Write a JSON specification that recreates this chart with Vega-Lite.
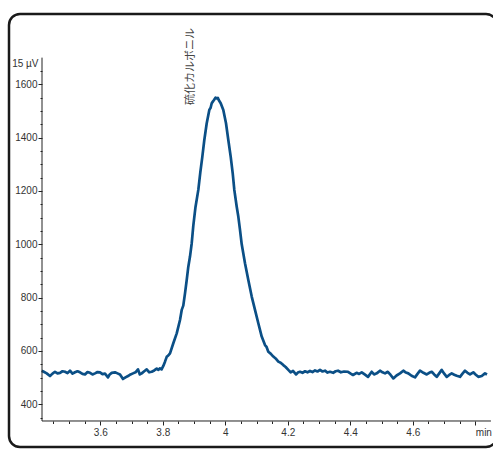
{
  "$schema": "https://vega.github.io/schema/vega-lite/v6.json",
  "autosize": {"type": "none"},
  "width": 488,
  "height": 433,
  "padding": {"left": 9, "top": 14, "right": -4, "bottom": 3},
  "background": "white",
  "config": {
    "view": {"stroke": "#1a1a1a", "strokeWidth": 2.5, "cornerRadius": 11},
    "axis": {"grid": false, "domain": false, "labelFont": "Liberation Sans", "labelFontSize": 10, "labelColor": "#333", "tickColor": "#222", "tickWidth": 1, "titleFont": "Liberation Sans"}
  },
  "datasets": {
    "trace": [
      {"t": 3.4125, "v": 526}, {"t": 3.4205, "v": 521}, {"t": 3.4285, "v": 516}, {"t": 3.4390, "v": 506},
      {"t": 3.4470, "v": 515}, {"t": 3.4550, "v": 522}, {"t": 3.4630, "v": 516}, {"t": 3.4710, "v": 518},
      {"t": 3.4790, "v": 524}, {"t": 3.4870, "v": 522}, {"t": 3.4950, "v": 517}, {"t": 3.5030, "v": 526},
      {"t": 3.5110, "v": 515}, {"t": 3.5190, "v": 520}, {"t": 3.5270, "v": 524}, {"t": 3.5350, "v": 520},
      {"t": 3.5430, "v": 514}, {"t": 3.5510, "v": 512}, {"t": 3.5590, "v": 521}, {"t": 3.5670, "v": 518},
      {"t": 3.5750, "v": 512}, {"t": 3.5830, "v": 516}, {"t": 3.5910, "v": 521}, {"t": 3.5990, "v": 520},
      {"t": 3.6070, "v": 513}, {"t": 3.6150, "v": 515}, {"t": 3.6246, "v": 501}, {"t": 3.6300, "v": 512},
      {"t": 3.6365, "v": 518}, {"t": 3.6470, "v": 520}, {"t": 3.6550, "v": 516}, {"t": 3.6630, "v": 512},
      {"t": 3.6726, "v": 495}, {"t": 3.6806, "v": 501}, {"t": 3.6886, "v": 506}, {"t": 3.6966, "v": 512},
      {"t": 3.7046, "v": 516}, {"t": 3.7126, "v": 520}, {"t": 3.7206, "v": 531}, {"t": 3.7265, "v": 512},
      {"t": 3.7325, "v": 516}, {"t": 3.7405, "v": 524}, {"t": 3.7485, "v": 531}, {"t": 3.7565, "v": 520},
      {"t": 3.7645, "v": 522}, {"t": 3.7725, "v": 527}, {"t": 3.7805, "v": 534}, {"t": 3.7860, "v": 529},
      {"t": 3.7910, "v": 535}, {"t": 3.7960, "v": 531}, {"t": 3.8016, "v": 544}, {"t": 3.8070, "v": 560},
      {"t": 3.8125, "v": 578}, {"t": 3.8175, "v": 583}, {"t": 3.8230, "v": 591}, {"t": 3.8336, "v": 629},
      {"t": 3.8445, "v": 666}, {"t": 3.8550, "v": 716}, {"t": 3.8605, "v": 754}, {"t": 3.8655, "v": 770},
      {"t": 3.8710, "v": 816}, {"t": 3.8765, "v": 866}, {"t": 3.8816, "v": 916}, {"t": 3.8870, "v": 954},
      {"t": 3.8925, "v": 1004}, {"t": 3.8976, "v": 1070}, {"t": 3.9046, "v": 1140}, {"t": 3.9136, "v": 1204},
      {"t": 3.9200, "v": 1270}, {"t": 3.9264, "v": 1328}, {"t": 3.9328, "v": 1391}, {"t": 3.9405, "v": 1454},
      {"t": 3.9488, "v": 1504}, {"t": 3.9530, "v": 1512}, {"t": 3.9565, "v": 1529}, {"t": 3.9600, "v": 1535},
      {"t": 3.9638, "v": 1541}, {"t": 3.9686, "v": 1550}, {"t": 3.9725, "v": 1547}, {"t": 3.9760, "v": 1549},
      {"t": 3.9789, "v": 1541}, {"t": 3.9853, "v": 1529}, {"t": 3.9936, "v": 1504}, {"t": 4.0022, "v": 1454},
      {"t": 4.0096, "v": 1391}, {"t": 4.0173, "v": 1328}, {"t": 4.0237, "v": 1266}, {"t": 4.0288, "v": 1204},
      {"t": 4.0365, "v": 1141}, {"t": 4.0416, "v": 1104}, {"t": 4.0470, "v": 1054}, {"t": 4.0525, "v": 1000},
      {"t": 4.0630, "v": 929}, {"t": 4.0736, "v": 866}, {"t": 4.0845, "v": 804}, {"t": 4.0950, "v": 754},
      {"t": 4.1056, "v": 704}, {"t": 4.1165, "v": 654}, {"t": 4.1270, "v": 622}, {"t": 4.1320, "v": 615},
      {"t": 4.1376, "v": 597}, {"t": 4.1450, "v": 590}, {"t": 4.1536, "v": 579}, {"t": 4.1610, "v": 572},
      {"t": 4.1696, "v": 560}, {"t": 4.1770, "v": 556}, {"t": 4.1856, "v": 547}, {"t": 4.1930, "v": 540},
      {"t": 4.2016, "v": 529}, {"t": 4.2090, "v": 520}, {"t": 4.2166, "v": 525}, {"t": 4.2262, "v": 512},
      {"t": 4.2320, "v": 519}, {"t": 4.2390, "v": 522}, {"t": 4.2470, "v": 518}, {"t": 4.2550, "v": 524},
      {"t": 4.2630, "v": 520}, {"t": 4.2710, "v": 525}, {"t": 4.2790, "v": 521}, {"t": 4.2870, "v": 527},
      {"t": 4.2950, "v": 523}, {"t": 4.3030, "v": 529}, {"t": 4.3110, "v": 523}, {"t": 4.3190, "v": 526},
      {"t": 4.3270, "v": 519}, {"t": 4.3350, "v": 522}, {"t": 4.3450, "v": 518}, {"t": 4.3530, "v": 524},
      {"t": 4.3606, "v": 526}, {"t": 4.3700, "v": 520}, {"t": 4.3800, "v": 523}, {"t": 4.3926, "v": 522},
      {"t": 4.4000, "v": 516}, {"t": 4.4086, "v": 510}, {"t": 4.4200, "v": 518}, {"t": 4.4280, "v": 514},
      {"t": 4.4365, "v": 520}, {"t": 4.4460, "v": 512}, {"t": 4.4566, "v": 503}, {"t": 4.4685, "v": 522},
      {"t": 4.4760, "v": 512}, {"t": 4.4845, "v": 516}, {"t": 4.4950, "v": 526}, {"t": 4.5030, "v": 520},
      {"t": 4.5110, "v": 516}, {"t": 4.5200, "v": 522}, {"t": 4.5290, "v": 510}, {"t": 4.5376, "v": 497},
      {"t": 4.5480, "v": 508}, {"t": 4.5590, "v": 516}, {"t": 4.5696, "v": 526}, {"t": 4.5780, "v": 519},
      {"t": 4.5856, "v": 516}, {"t": 4.5960, "v": 507}, {"t": 4.6070, "v": 501}, {"t": 4.6150, "v": 514},
      {"t": 4.6230, "v": 526}, {"t": 4.6340, "v": 518}, {"t": 4.6445, "v": 512}, {"t": 4.6525, "v": 518},
      {"t": 4.6605, "v": 522}, {"t": 4.6685, "v": 512}, {"t": 4.6765, "v": 503}, {"t": 4.6845, "v": 516},
      {"t": 4.6925, "v": 529}, {"t": 4.7005, "v": 515}, {"t": 4.7085, "v": 503}, {"t": 4.7165, "v": 510},
      {"t": 4.7245, "v": 516}, {"t": 4.7325, "v": 511}, {"t": 4.7405, "v": 507}, {"t": 4.7510, "v": 503},
      {"t": 4.7590, "v": 515}, {"t": 4.7670, "v": 526}, {"t": 4.7750, "v": 518}, {"t": 4.7830, "v": 512},
      {"t": 4.7936, "v": 520}, {"t": 4.8016, "v": 511}, {"t": 4.8096, "v": 503}, {"t": 4.8205, "v": 506},
      {"t": 4.8310, "v": 516}, {"t": 4.8374, "v": 512}
    ],
    "peaks": [
      {"t": 3.8896, "v": 1522, "label": "硫化カルボニル"}
    ]
  },
  "layer": [
    {
      "data": {"name": "trace"},
      "mark": {"type": "line", "color": "#0b4f86", "strokeWidth": 2.7, "strokeJoin": "round", "clip": true},
      "encoding": {
        "x": {
          "field": "t", "type": "quantitative",
          "scale": {"domain": [3.3078, 4.8694], "nice": false, "zero": false},
          "axis": {
            "orient": "bottom", "offset": -26, "title": null, "tickCount": 200,
            "values": [3.45, 3.5, 3.55, 3.6, 3.65, 3.7, 3.75, 3.8, 3.85, 3.9, 3.95, 4.0, 4.05, 4.1, 4.15, 4.2, 4.25, 4.3, 4.35, 4.4, 4.45, 4.5, 4.55, 4.6, 4.65, 4.7, 4.75, 4.8],
            "labelExpr": "datum.value > 4.79 ? 'min' : (abs(round(datum.value * 100) % 20) < 1 ? format(datum.value, '~g') : '')",
            "labelAlign": {"condition": {"test": "datum.value > 4.79", "value": "left"}, "value": "center"},
            "tickSize": {"condition": {"test": "abs(round(datum.value * 100) % 20) < 1", "value": 4}, "value": 2.5},
            "labelPadding": 2, "labelOverlap": false, "labelBound": false, "labelFlush": false
          }
        },
        "y": {
          "field": "v", "type": "quantitative",
          "scale": {"domain": [239.9, 1863.6], "nice": false, "zero": false},
          "axis": {
            "orient": "left", "offset": -33, "tickCount": 200,
            "values": [350, 400, 450, 500, 550, 600, 650, 700, 750, 800, 850, 900, 950, 1000, 1050, 1100, 1150, 1200, 1250, 1300, 1350, 1400, 1450, 1500, 1550, 1600, 1650],
            "labelExpr": "datum.value % 200 === 0 ? format(datum.value, 'd') : ''",
            "tickSize": {"condition": {"test": "datum.value % 200 === 0", "value": 4}, "value": 2},
            "labelPadding": 1, "labelOverlap": false, "labelBound": false, "labelFlush": false,
            "title": "15 µV", "titleAngle": 0, "titleAlign": "right", "titleBaseline": "middle",
            "titleX": -4, "titleY": 49, "titleFontSize": 10, "titleFontWeight": "normal", "titleColor": "#333"
          }
        }
      }
    },
    {
      "data": {"values": [{}]},
      "mark": {"type": "rule", "color": "#222", "strokeWidth": 1},
      "encoding": {"x": {"datum": 3.4134}, "y": {"datum": 337.4}, "y2": {"datum": 1700}}
    },
    {
      "data": {"values": [{}]},
      "mark": {"type": "rule", "color": "#222", "strokeWidth": 1},
      "encoding": {"y": {"datum": 337.4}, "x": {"datum": 3.4134}, "x2": {"datum": 4.850}}
    },
    {
      "data": {"name": "peaks"},
      "mark": {"type": "text", "angle": 270, "align": "left", "baseline": "middle", "font": "Noto Sans CJK JP", "fontSize": 11, "color": "#444"},
      "encoding": {
        "x": {"field": "t", "type": "quantitative"},
        "y": {"field": "v", "type": "quantitative"},
        "text": {"field": "label"}
      }
    }
  ]
}
